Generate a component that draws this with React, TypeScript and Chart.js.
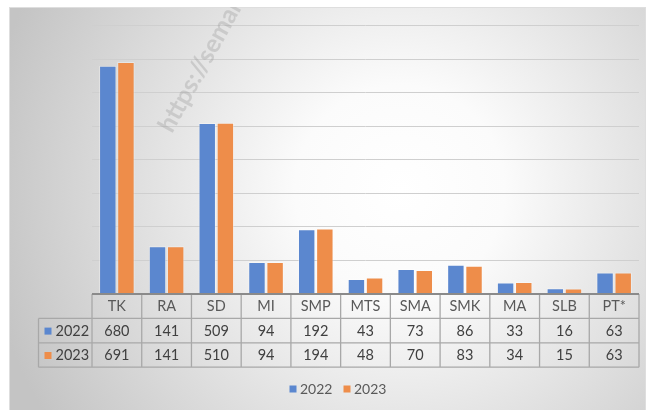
import React, { useEffect, useRef } from "react";
import { Chart, registerables } from "chart.js";

Chart.register(...registerables);

const categories = ["TK", "RA", "SD", "MI", "SMP", "MTS", "SMA", "SMK", "MA", "SLB", "PT*"];
const values2022 = [680, 141, 509, 94, 192, 43, 73, 86, 33, 16, 63];
const values2023 = [691, 141, 510, 94, 194, 48, 70, 83, 34, 15, 63];
const seriesLabels = ["2022", "2023"];
const seriesColors = ["#5B87CF", "#EE8D4A"];
const watermark = "https://semar";

const FONT = "Lato, 'Open Sans', sans-serif";

const framePlugin = {
  id: "framePlugin",
  beforeDraw(chart: any) {
    const ctx = chart.ctx;
    ctx.save();
    ctx.fillStyle = "#ffffff";
    ctx.fillRect(0, 0, chart.width, chart.height);
    const fx = 9, fy = 7, fw = 637, fh = 410;
    const g = ctx.createRadialGradient(400, 190, 0, 400, 190, 420);
    g.addColorStop(0, "#ffffff");
    g.addColorStop(0.25, "#fbfbfb");
    g.addColorStop(1, "#c4c4c4");
    ctx.fillStyle = g;
    ctx.fillRect(fx, fy, fw, fh);
    ctx.strokeStyle = "#dedede";
    ctx.lineWidth = 1;
    ctx.strokeRect(fx + 0.5, fy + 0.5, fw - 1, fh);
    ctx.restore();
  },
  beforeDatasetsDraw(chart: any) {
    const ctx = chart.ctx;
    ctx.save();
    ctx.beginPath();
    ctx.rect(9, 7, 637, 403);
    ctx.clip();
    ctx.translate(172, 134);
    ctx.rotate((-61 * Math.PI) / 180);
    ctx.font = `bold 25px ${FONT}`;
    ctx.fillStyle = "rgba(150,150,150,0.32)";
    ctx.textBaseline = "alphabetic";
    ctx.fillText(watermark, 0, 0);
    ctx.restore();
  },
  afterDraw(chart: any) {
    const ctx = chart.ctx;
    const x = chart.scales.x;
    const n = categories.length;
    const left = chart.chartArea.left;
    const right = chart.chartArea.right;
    const colW = (right - left) / n;
    const y0 = chart.chartArea.bottom + 0.5;
    const rh = 24.4;
    const y1 = y0 + rh, y2 = y1 + rh, y3 = y2 + rh;
    const labelLeft = 38.5;

    ctx.save();
    ctx.strokeStyle = "#a8a8a8";
    ctx.lineWidth = 1.3;
    ctx.beginPath();
    [y1, y2, y3].forEach((yy) => {
      ctx.moveTo(labelLeft, yy);
      ctx.lineTo(right, yy);
    });
    for (let i = 0; i <= n; i++) {
      const xx = left + i * colW;
      ctx.moveTo(xx, y0);
      ctx.lineTo(xx, y3);
    }
    ctx.moveTo(labelLeft, y1);
    ctx.lineTo(labelLeft, y3);
    ctx.stroke();
    ctx.strokeStyle = "#8a8a8a";
    ctx.lineWidth = 2;
    ctx.beginPath();
    ctx.moveTo(left, y0);
    ctx.lineTo(right, y0);
    ctx.stroke();

    ctx.font = `14.5px ${FONT}`;
    ctx.textAlign = "center";
    ctx.textBaseline = "middle";
    ctx.fillStyle = "#595959";
    categories.forEach((c, i) => {
      const cx = x.getPixelForValue(i);
      ctx.fillText(c, cx, (y0 + y1) / 2 + 0.5);
    });
    const rows = [values2022, values2023];
    ctx.fillStyle = "#404040";
    rows.forEach((vals, r) => {
      const yc = (r === 0 ? (y1 + y2) / 2 : (y2 + y3) / 2) + 0.5;
      vals.forEach((v, i) => {
        ctx.fillText(String(v), x.getPixelForValue(i), yc);
      });
      ctx.fillStyle = seriesColors[r];
      ctx.fillRect(44.5, yc - 3.5, 7, 7);
      ctx.fillStyle = "#404040";
      ctx.textAlign = "left";
      ctx.fillText(seriesLabels[r], 55.5, yc);
      ctx.textAlign = "center";
    });

    const ly = 389;
    const items = [
      { x: 289.5, label: seriesLabels[0], color: seriesColors[0] },
      { x: 343.5, label: seriesLabels[1], color: seriesColors[1] },
    ];
    ctx.font = `14px ${FONT}`;
    ctx.textAlign = "left";
    items.forEach((it) => {
      ctx.fillStyle = it.color;
      ctx.fillRect(it.x, ly - 3.5, 7, 7);
      ctx.fillStyle = "#595959";
      ctx.fillText(it.label, it.x + 10.5, ly + 0.5);
    });
    ctx.restore();
  },
};

export default function App() {
  const ref = useRef<HTMLCanvasElement | null>(null);
  useEffect(() => {
    if (!ref.current) return;
    const chart = new Chart(ref.current, {
      type: "bar",
      data: {
        labels: categories,
        datasets: [
          {
            label: seriesLabels[0],
            data: values2022,
            backgroundColor: seriesColors[0],
            borderColor: "rgba(255,255,255,0.35)",
            borderWidth: 1,
            categoryPercentage: 0.73,
            barPercentage: 0.96,
          },
          {
            label: seriesLabels[1],
            data: values2023,
            backgroundColor: seriesColors[1],
            borderColor: "rgba(255,255,255,0.35)",
            borderWidth: 1,
            categoryPercentage: 0.73,
            barPercentage: 0.96,
          },
        ],
      },
      options: {
        responsive: false,
        animation: false,
        devicePixelRatio: 1,
        layout: { padding: { left: 92, right: 8, top: 25.5, bottom: 116.5 } },
        plugins: { legend: { display: false }, tooltip: { enabled: false } },
        scales: {
          x: {
            grid: { display: false },
            border: { display: false },
            ticks: { display: false },
            afterFit: (s: any) => {
              s.height = 0;
            },
          },
          y: {
            min: 0,
            max: 800,
            ticks: { display: false, stepSize: 100 },
            grid: { color: "#cfcfcf", lineWidth: 1, drawTicks: false },
            border: { display: false },
            afterFit: (s: any) => {
              s.width = 0;
            },
          },
        },
      },
      plugins: [framePlugin],
    });
    return () => chart.destroy();
  }, []);
  return (
    <div style={{ position: "absolute", left: 0, top: 0, width: 647, height: 410 }}>
      <canvas ref={ref} width={647} height={410} style={{ display: "block" }} />
    </div>
  );
}
